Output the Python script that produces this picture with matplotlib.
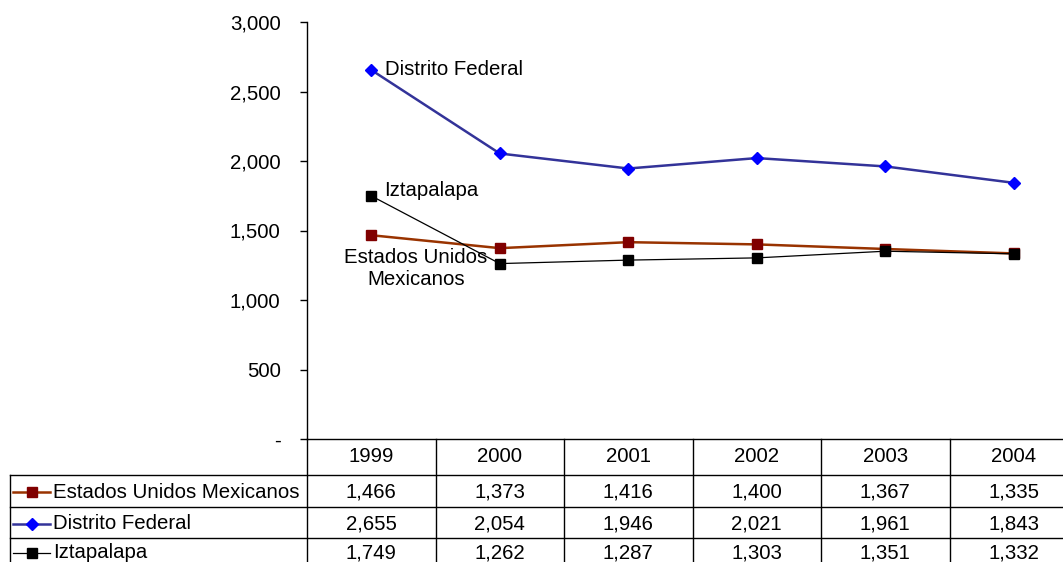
import matplotlib
matplotlib.use("Agg")
import matplotlib.pyplot as plt
from matplotlib.lines import Line2D
import matplotlib.transforms as mtransforms

plt.rcParams['font.family'] = ['Liberation Sans', 'DejaVu Sans']

years = ["1999", "2000", "2001", "2002", "2003", "2004"]
series_names = ["Estados Unidos Mexicanos", "Distrito Federal", "Iztapalapa"]
estados = [1466, 1373, 1416, 1400, 1367, 1335]
distrito = [2655, 2054, 1946, 2021, 1961, 1843]
iztapalapa = [1749, 1262, 1287, 1303, 1351, 1332]
yticks = [0, 500, 1000, 1500, 2000, 2500, 3000]

FS = 14.7
W, H = 1063, 562
fig = plt.figure(figsize=(W / 100, H / 100), dpi=100)

# axes in pixel terms: left 307, right 1078 (clipped by image), top 22, bottom 439
ax = fig.add_axes([307 / W, 1 - 439 / H, (1078 - 307) / W, (439 - 22) / H])
x = list(range(len(years)))

styles = [
    dict(color="#993300", lw=1.8, marker="s", ms=7, mfc="#800000", mec="#800000"),
    dict(color="#333399", lw=1.8, marker="D", ms=6.5, mfc="#0000ff", mec="#0000ff"),
    dict(color="black", lw=0.9, marker="s", ms=7, mfc="black", mec="black"),
]
all_series = [estados, distrito, iztapalapa]
for vals, st in zip(all_series, styles):
    ax.plot(x, vals, clip_on=False, **st)

ax.set_xlim(-0.5, len(years) - 0.5)
ax.set_ylim(0, 3000)
ax.set_yticks(yticks)
ax.set_yticklabels(["-" if v == 0 else f"{v:,}" for v in yticks], fontsize=FS)
ax.tick_params(axis="y", direction="out", length=5, width=1, pad=14)
ax.set_xticks([])
for s in ["top", "right"]:
    ax.spines[s].set_visible(False)
ax.spines["left"].set_linewidth(1)
ax.spines["bottom"].set_linewidth(1)

# series labels
ax.annotate("Distrito Federal", (0, distrito[0]), xytext=(10, 0),
            textcoords="offset points", va="center", ha="left", fontsize=FS)
ax.annotate("Iztapalapa", (0, iztapalapa[0]), xytext=(9, 4),
            textcoords="offset points", va="center", ha="left", fontsize=FS)
ax.annotate("Estados Unidos\nMexicanos", (0, estados[0]), xytext=(32, -9),
            textcoords="offset points", va="top", ha="center", fontsize=FS,
            linespacing=1.2)

# data table below the axes
tr = mtransforms.blended_transform_factory(ax.transData, fig.transFigure)
ff = lambda py: 1 - py / H
row_edges = [439, 475, 507, 538, 570]
label_left = 10 / W

# horizontal lines
for py in row_edges[1:]:
    fig.add_artist(Line2D([label_left, 1], [ff(py), ff(py)], color="black", lw=1))
# vertical lines
for i in range(len(years) + 1):
    xb = i - 0.5
    fig.add_artist(Line2D([xb, xb], [ff(439), ff(570)], color="black", lw=1,
                          transform=tr))
fig.add_artist(Line2D([label_left, label_left], [ff(475), ff(570)], color="black", lw=1))

# header
for i, yr in enumerate(years):
    fig.text(i, ff((row_edges[0] + row_edges[1]) / 2), yr, transform=tr,
             ha="center", va="center", fontsize=FS)

# rows
for r, (name, vals, st) in enumerate(zip(series_names, all_series, styles)):
    yc = ff((row_edges[r + 1] + row_edges[r + 2]) / 2 + (1 if r < 2 else -1))
    fig.add_artist(Line2D([13 / W, 50 / W], [yc, yc], color=st["color"], lw=st["lw"]))
    fig.add_artist(Line2D([31.5 / W], [yc], marker=st["marker"], ms=st["ms"],
                          mfc=st["mfc"], mec=st["mec"], lw=0))
    fig.text(53 / W, yc, name, ha="left", va="center", fontsize=FS)
    for i, v in enumerate(vals):
        fig.text(i, yc, f"{v:,}", transform=tr, ha="center", va="center", fontsize=FS)

fig.savefig("out.png", dpi=100)
